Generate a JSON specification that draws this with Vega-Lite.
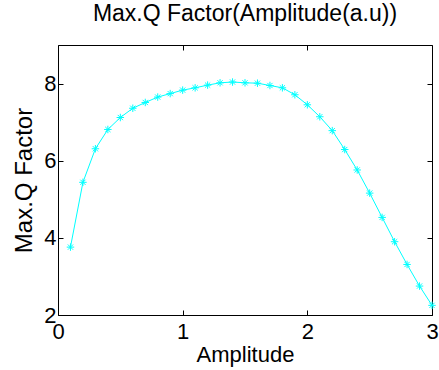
{
  "$schema": "https://vega.github.io/schema/vega-lite/v6.json",
  "width": 374,
  "height": 270,
  "autosize": {"type": "none"},
  "padding": {"left": 58, "top": 45, "right": 7, "bottom": 55},
  "background": "white",
  "title": {"text": "Max.Q Factor(Amplitude(a.u))", "fontSize": 23, "font": "Liberation Sans", "fontWeight": "normal", "color": "black", "offset": 19},
  "config": {
    "view": {"stroke": null},
    "axis": {"domainColor": "black", "tickColor": "black", "labelColor": "black", "titleColor": "black", "labelFont": "Liberation Sans", "titleFont": "Liberation Sans", "labelFontSize": 22, "titleFontSize": 22, "titleFontWeight": "normal", "grid": false, "tickSize": -5, "domainWidth": 1, "tickWidth": 1, "labelFlush": false}
  },
  "data": {"values": [
    {"amp": 0.1, "q": 3.76}, {"amp": 0.2, "q": 5.44}, {"amp": 0.3, "q": 6.31}, {"amp": 0.4, "q": 6.81},
    {"amp": 0.5, "q": 7.12}, {"amp": 0.6, "q": 7.36}, {"amp": 0.7, "q": 7.51}, {"amp": 0.8, "q": 7.65},
    {"amp": 0.9, "q": 7.74}, {"amp": 1.0, "q": 7.83}, {"amp": 1.1, "q": 7.89}, {"amp": 1.2, "q": 7.96},
    {"amp": 1.3, "q": 8.02}, {"amp": 1.4, "q": 8.04}, {"amp": 1.5, "q": 8.02}, {"amp": 1.6, "q": 8.01},
    {"amp": 1.7, "q": 7.95}, {"amp": 1.8, "q": 7.89}, {"amp": 1.9, "q": 7.71}, {"amp": 2.0, "q": 7.45},
    {"amp": 2.1, "q": 7.14}, {"amp": 2.2, "q": 6.78}, {"amp": 2.3, "q": 6.29}, {"amp": 2.4, "q": 5.76},
    {"amp": 2.5, "q": 5.16}, {"amp": 2.6, "q": 4.53}, {"amp": 2.7, "q": 3.90}, {"amp": 2.8, "q": 3.31},
    {"amp": 2.9, "q": 2.75}, {"amp": 3.0, "q": 2.25}
  ]},
  "layer": [
    {
      "mark": {"type": "line", "color": "#00FFFF", "strokeWidth": 1},
      "encoding": {
        "x": {"field": "amp", "type": "quantitative", "scale": {"domain": [0, 3], "nice": false},
              "axis": {"orient": "bottom", "values": [0, 1, 2, 3], "title": "Amplitude", "labelPadding": 11, "titlePadding": 2}},
        "y": {"field": "q", "type": "quantitative", "scale": {"domain": [2, 9], "nice": false, "zero": false},
              "axis": {"orient": "left", "values": [2, 4, 6, 8], "title": "Max.Q Factor", "titleFontSize": 24, "labelPadding": 7, "titlePadding": 7}}
      }
    },
    {
      "mark": {"type": "point", "shape": "M-1,0L1,0M0,-1L0,1M-0.7,-0.7L0.7,0.7M-0.7,0.7L0.7,-0.7", "size": 56, "filled": false, "color": "#00FFFF", "strokeWidth": 1, "opacity": 1},
      "encoding": {
        "x": {"field": "amp", "type": "quantitative", "axis": {"orient": "top", "values": [0, 1, 2, 3], "labels": false, "title": null}},
        "y": {"field": "q", "type": "quantitative", "axis": {"orient": "right", "values": [2, 4, 6, 8], "labels": false, "title": null}}
      }
    }
  ]
}
